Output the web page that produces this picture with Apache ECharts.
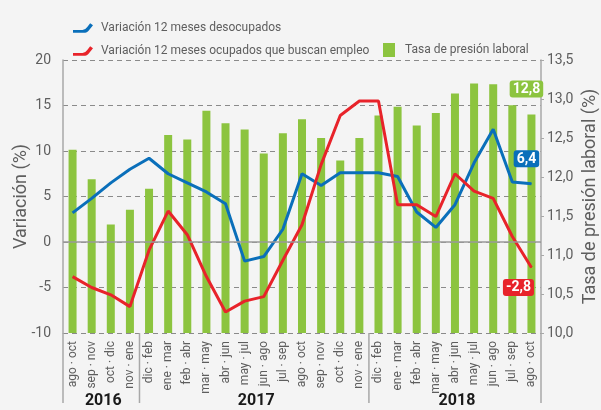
<!DOCTYPE html>
<html>
<head>
<meta charset="utf-8">
<script src="https://cdn.jsdelivr.net/npm/echarts@6/dist/echarts.min.js"></script>
<style>
  html, body { margin: 0; padding: 0; background: #f4f4f4; }
  #chart { width: 601px; height: 410px; }
</style>
</head>
<body>
<div id="chart"></div>
<script>
// periodos móviles trimestrales
const categories = [
  'ago · oct', 'sep · nov', 'oct · dic', 'nov · ene',
  'dic · feb', 'ene · mar', 'feb · abr', 'mar · may', 'abr · jun', 'may · jul',
  'jun · ago', 'jul · sep', 'ago · oct', 'sep · nov', 'oct · dic', 'nov · ene',
  'dic · feb', 'ene · mar', 'feb · abr', 'mar · may', 'abr · jun', 'may · jul',
  'jun · ago', 'jul · sep', 'ago · oct'
];
const yearLabels = ['2016', '2017', '2018'];
const yearStarts = [0, 4, 16];

// variación 12 meses (%)
const desocupados = [
  3.2, 4.8, 6.5, 8.0, 9.2, 7.5, 6.5, 5.5, 4.2, -2.1, -1.6, 1.4, 7.5,
  6.2, 7.6, 7.6, 7.6, 7.2, 3.3, 1.6, 4.1, 8.7, 12.4, 6.6, 6.4
];
const ocupadosBuscan = [
  -3.8, -5.0, -5.8, -7.1, -0.9, 3.4, 0.8, -3.8, -7.7, -6.5, -6.0, -2.0, 1.9,
  8.5, 13.9, 15.5, 15.5, 4.1, 4.1, 2.8, 7.5, 5.6, 4.8, 0.6, -2.8
];
// tasa de presión laboral (%)
const presionLaboral = [
  12.35, 11.97, 11.39, 11.58, 11.85, 12.54, 12.48, 12.85, 12.69, 12.61, 12.30, 12.56, 12.74,
  12.50, 12.21, 12.50, 12.79, 12.90, 12.66, 12.82, 13.07, 13.20, 13.19, 12.92, 12.8
];

const FONT = 'Roboto, "Noto Sans", sans-serif';
const GREEN = '#8cc43f';
const BLUE = '#0a6fba';
const RED = '#e8232a';
const GREY_TEXT = '#5e5e5e';
const AXIS_GREY = '#a8a8a8';

const comma = (v) => v.toFixed(1).replace('.', ',');
const last = categories.length - 1;

const endLabel = (color, position, distance, offset) => ({
  show: true,
  position,
  distance,
  offset,
  formatter: (p) => comma(p.value),
  color: '#fff',
  fontFamily: FONT,
  fontSize: 14,
  fontWeight: 'bold',
  backgroundColor: color,
  borderRadius: 3,
  padding: [2, 3, 1, 3],
});

// only the last point gets a (tiny) symbol, so it can carry the label
const withEnd = (arr, label, color) =>
  arr.map((v, i) =>
    i === last ? { value: v, symbol: 'circle', symbolSize: 1, itemStyle: { color }, label } : v
  );

const lineIcon = 'path://M0,7 L10,7 Q13,7 15,4 L18,0 L21,2 L17,7 Q15,10 11,10 L0,10 Z';
const legendText = { color: GREY_TEXT, fontSize: 12, fontFamily: FONT, padding: [0, 0, 0, 3] };

const chart = echarts.init(document.getElementById('chart'));

const option = {
  backgroundColor: '#f4f4f4',
  animation: false,
  textStyle: { fontFamily: FONT },
  legend: [
    {
      left: 68, top: 17,
      itemWidth: 20, itemHeight: 10,
      data: [{ name: 'Variación 12 meses desocupados', icon: lineIcon }],
      textStyle: legendText,
    },
    {
      left: 68, top: 40,
      itemWidth: 20, itemHeight: 10,
      data: [{ name: 'Variación 12 meses ocupados que buscan empleo', icon: lineIcon }],
      textStyle: legendText,
    },
    {
      left: 378, top: 38,
      itemWidth: 12, itemHeight: 14,
      data: [{ name: 'Tasa de presión laboral', icon: 'rect' }],
      textStyle: { ...legendText, padding: [0, 0, 0, 5] },
    },
  ],
  grid: { left: 63, right: 60, top: 60, bottom: 77, outerBoundsMode: 'none' },
  xAxis: {
    type: 'category',
    data: categories,
    boundaryGap: true,
    axisLine: { show: false },
    axisTick: { show: false },
    axisLabel: {
      rotate: 90,
      margin: 8,
      interval: 0,
      color: GREY_TEXT,
      fontSize: 12,
      fontFamily: FONT,
    },
  },
  yAxis: [
    {
      type: 'value',
      min: -10, max: 20, interval: 5,
      name: 'Variación (%)',
      nameLocation: 'middle',
      nameRotate: 90,
      nameGap: 33,
      nameMoveOverlap: false,
      nameTextStyle: { color: GREY_TEXT, fontSize: 18, fontFamily: FONT },
      axisLine: { show: true, lineStyle: { color: AXIS_GREY, width: 1.5 } },
      axisTick: { show: false },
      axisLabel: { color: GREY_TEXT, fontSize: 14, fontFamily: FONT, margin: 12 },
      splitLine: { show: true, lineStyle: { color: '#8a8a8a', type: [5, 4], width: 1 } },
    },
    {
      type: 'value',
      min: 10, max: 13.5, interval: 0.5,
      name: 'Tasa de presión laboral (%)',
      nameLocation: 'middle',
      nameRotate: 90,
      nameGap: 40,
      nameMoveOverlap: false,
      nameTextStyle: { color: GREY_TEXT, fontSize: 18, fontFamily: FONT },
      axisLine: { show: true, lineStyle: { color: AXIS_GREY, width: 1.5 } },
      axisTick: { show: true, length: 3, lineStyle: { color: AXIS_GREY } },
      axisLabel: { color: GREY_TEXT, fontSize: 14, fontFamily: FONT, margin: 6, formatter: comma },
      splitLine: { show: false },
    },
  ],
  series: [
    {
      name: 'Tasa de presión laboral',
      type: 'bar',
      yAxisIndex: 1,
      barWidth: 8,
      itemStyle: { color: GREEN },
      data: presionLaboral.map((v, i) =>
        i === last ? { value: v, label: endLabel(GREEN, 'top', 17, [-5, 0]) } : v
      ),
    },
    {
      name: 'Variación 12 meses desocupados',
      type: 'line',
      yAxisIndex: 0,
      symbol: 'none',
      showSymbol: true,
      lineStyle: { color: BLUE, width: 3 },
      itemStyle: { color: BLUE },
      data: withEnd(desocupados, endLabel(BLUE, 'top', 16, [-5, 0]), BLUE),
      markLine: {
        silent: true,
        symbol: 'none',
        label: { show: false },
        lineStyle: { color: '#9a9a9a', type: 'solid', width: 1.5 },
        data: [{ yAxis: 0 }],
      },
    },
    {
      name: 'Variación 12 meses ocupados que buscan empleo',
      type: 'line',
      yAxisIndex: 0,
      symbol: 'none',
      showSymbol: true,
      lineStyle: { color: RED, width: 3 },
      itemStyle: { color: RED },
      data: withEnd(ocupadosBuscan, endLabel(RED, 'bottom', 11, [-13, 0]), RED),
    },
  ],
};

chart.setOption(option);

// separadores y etiquetas de año bajo el eje X
const c0 = chart.convertToPixel({ xAxisIndex: 0 }, 0);
const c1 = chart.convertToPixel({ xAxisIndex: 0 }, 1);
const step = c1 - c0;
const bottomY = chart.convertToPixel({ yAxisIndex: 0 }, -10);
const edges = yearStarts.concat([categories.length]).map((i) => c0 + (i - 0.5) * step);
const graphic = [];
edges.forEach((x) => {
  graphic.push({
    type: 'line',
    silent: true,
    shape: { x1: x, y1: bottomY, x2: x, y2: bottomY + 70 },
    style: { stroke: AXIS_GREY, lineWidth: 1.5 },
  });
});
yearLabels.forEach((label, k) => {
  graphic.push({
    type: 'text',
    silent: true,
    x: (edges[k] + edges[k + 1]) / 2 + 2,
    y: bottomY + 68,
    style: {
      text: label,
      fill: '#1a1a1a',
      font: 'bold 16px ' + FONT,
      textAlign: 'center',
      textVerticalAlign: 'middle',
    },
  });
});
chart.setOption({ graphic });
</script>
</body>
</html>
